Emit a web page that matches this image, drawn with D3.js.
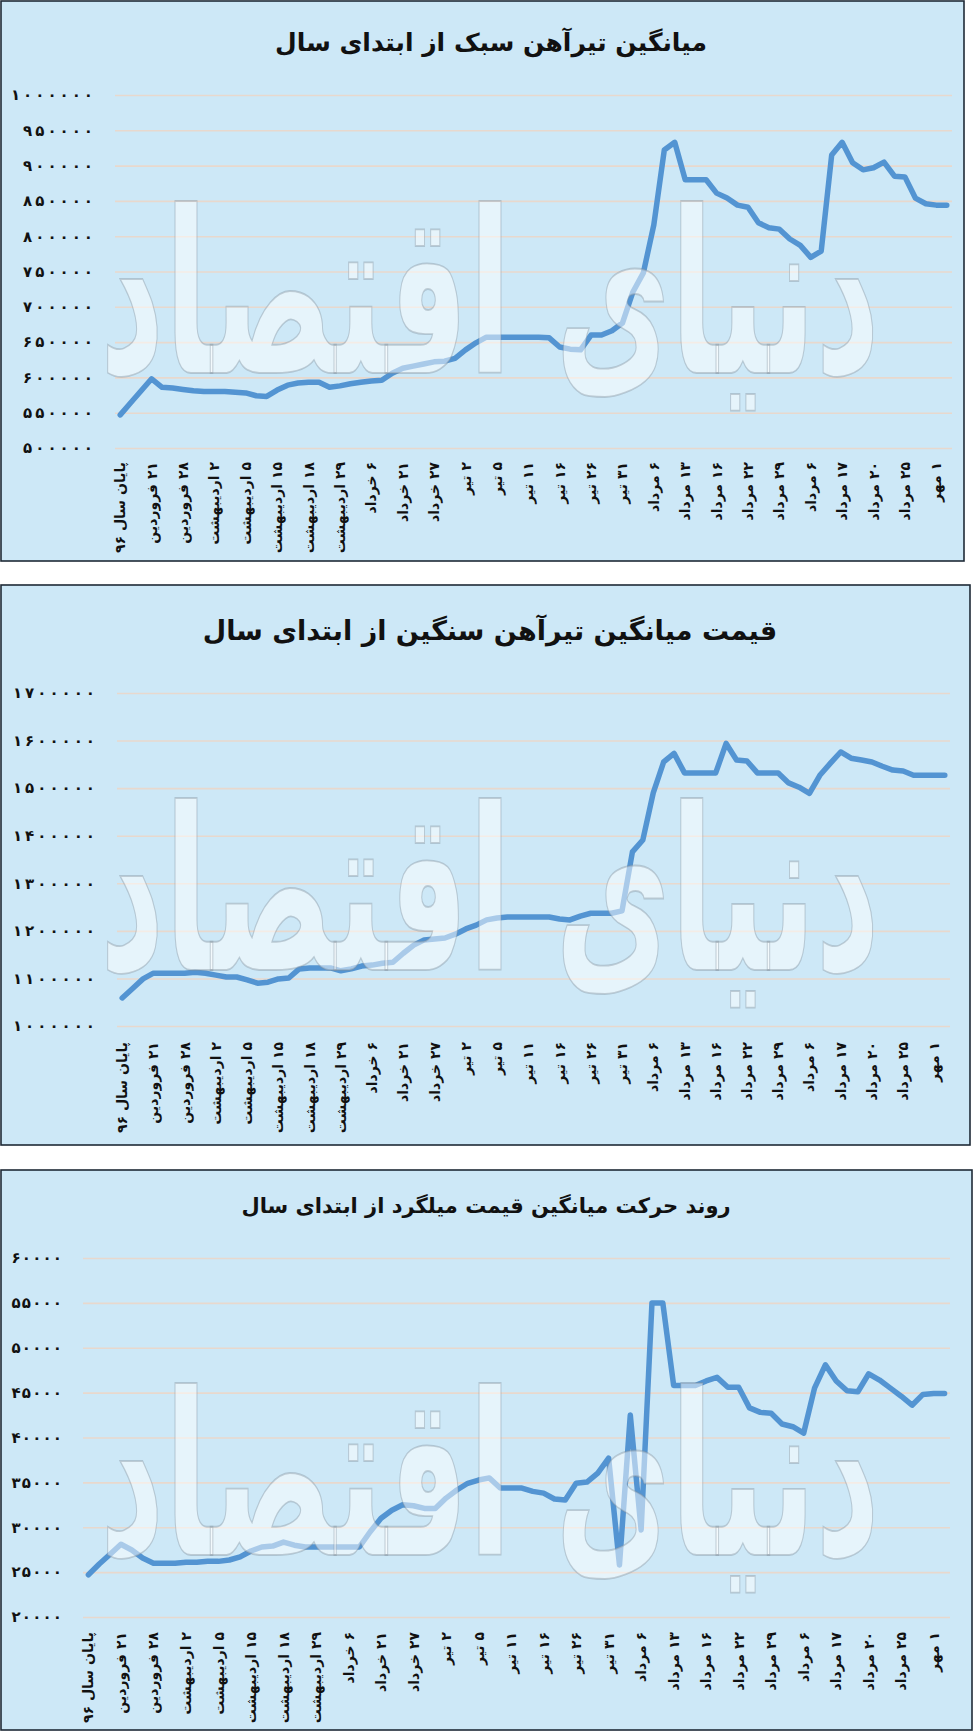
<!DOCTYPE html>
<html>
<head>
<meta charset="utf-8">
<script src="https://d3js.org/d3.v7.min.js"></script>
<style>
    body { margin: 0; background: #ffffff; }
    svg { display: block; }
    text { font-family: "DejaVu Sans", sans-serif; font-weight: bold; fill: #111; }
</style>
</head>
<body>
<div id="chart"></div>
<script>
// tick labels on the category axis (one every third point)
var xLabels = ["پایان سال ۹۶", "۲۱ فروردین", "۲۸ فروردین", "۲ اردیبهشت", "۵ اردیبهشت",
    "۱۵ اردیبهشت", "۱۸ اردیبهشت", "۲۹ اردیبهشت", "۶ خرداد", "۲۱ خرداد", "۲۷ خرداد",
    "۲ تیر", "۵ تیر", "۱۱ تیر", "۱۶ تیر", "۲۶ تیر", "۳۱ تیر", "۶ مرداد", "۱۳ مرداد",
    "۱۶ مرداد", "۲۲ مرداد", "۲۹ مرداد", "۶ مرداد", "۱۷ مرداد", "۲۰ مرداد", "۲۵ مرداد", "۱ مهر"];
var labelStep = 3;

var lightBeamTitle = "میانگین تیرآهن سبک از ابتدای سال";
var lightBeamTicks = [500000, 550000, 600000, 650000, 700000, 750000, 800000, 850000, 900000, 950000, 1000000];
var lightBeamPrices = [
    547000, 564000, 581000, 598000, 586000, 585000, 583000, 581000, 580000, 580000,
    580000, 579000, 578000, 574000, 573000, 582000, 589000, 592000, 593000, 593000,
    586000, 588000, 591000, 593000, 595000, 596000, 606000, 613000, 616000, 619000,
    622000, 623000, 627000, 639000, 649000, 657000, 657000, 657000, 657000, 657000,
    657000, 656000, 643000, 640000, 639000, 660000, 660000, 666000, 677000, 721000,
    748000, 816000, 922000, 933000, 880000, 880000, 880000, 861000, 854000, 844000,
    841000, 819000, 812000, 810000, 796000, 787000, 770000, 779000, 915000, 933000,
    904000, 894000, 897000, 905000, 885000, 884000, 854000, 846000, 844000, 844000
];

var heavyBeamTitle = "قیمت میانگین تیرآهن سنگین از ابتدای سال";
var heavyBeamTicks = [1000000, 1100000, 1200000, 1300000, 1400000, 1500000, 1600000, 1700000];
var heavyBeamPrices = [
    1059000, 1079000, 1099000, 1111000, 1111000, 1111000, 1111000, 1113000, 1111000, 1107000,
    1103000, 1103000, 1097000, 1090000, 1092000, 1099000, 1101000, 1120000, 1122000, 1122000,
    1122000, 1116000, 1120000, 1126000, 1128000, 1132000, 1134000, 1153000, 1170000, 1181000,
    1183000, 1185000, 1193000, 1204000, 1212000, 1223000, 1227000, 1229000, 1229000, 1229000,
    1229000, 1229000, 1225000, 1223000, 1231000, 1237000, 1237000, 1237000, 1242000, 1366000,
    1391000, 1490000, 1555000, 1573000, 1532000, 1532000, 1532000, 1532000, 1594000, 1559000,
    1557000, 1532000, 1532000, 1532000, 1511000, 1502000, 1489000, 1527000, 1552000, 1576000,
    1563000, 1559000, 1555000, 1546000, 1538000, 1536000, 1527000, 1527000, 1527000, 1527000
];

var rebarTitle = "روند حرکت میانگین قیمت میلگرد از ابتدای سال";
var rebarTicks = [20000, 25000, 30000, 35000, 40000, 45000, 50000, 55000, 60000];
var rebarPrices = [
    24700, 25900, 27000, 28100, 27460, 26570, 26000, 26000, 26000, 26100,
    26100, 26200, 26200, 26350, 26700, 27350, 27800, 27900, 28350, 28000,
    27800, 27800, 27800, 27800, 27800, 27800, 29500, 31000, 31900, 32500,
    32400, 32100, 32100, 33250, 34150, 34900, 35260, 35500, 34370, 34370,
    34370, 34000, 33800, 33150, 33030, 34900, 35030, 36040, 37700, 25800,
    42500, 29700, 55000, 55000, 45800, 45800, 45800, 46300, 46700, 45600,
    45600, 43300, 42800, 42700, 41500, 41200, 40500, 45500, 48100, 46300,
    45200, 45100, 47100, 46400, 45500, 44600, 43600, 44800, 44900, 44900
];

var watermarkText = "دنیای اقتصاد";

// western digits -> persian digits
function toPersianDigits(value) {
    var digits = "۰۱۲۳۴۵۶۷۸۹";
    return String(value).replace(/[0-9]/g, function (d) {
        return digits[+d];
    });
}

var svg = d3.select("#chart")
    .append("svg")
    .attr("width", 974)
    .attr("height", 1732);

function drawPanel(cfg) {
    var box = cfg.box;

    svg.append("rect")
        .attr("x", box[0])
        .attr("y", box[1])
        .attr("width", box[2])
        .attr("height", box[3])
        .attr("fill", "#cde8f7")
        .attr("stroke", "#1f2a36")
        .attr("stroke-width", 1.6);

    var x = d3.scaleBand()
        .domain(d3.range(cfg.values.length))
        .range([cfg.left, cfg.right]);

    var y = d3.scaleLinear()
        .domain(d3.extent(cfg.ticks))
        .range([cfg.bottom, cfg.top]);

    // value axis with the gridlines
    var yAxis = svg.append("g")
        .attr("transform", "translate(" + cfg.left + ",0)")
        .call(d3.axisLeft(y)
            .tickValues(cfg.ticks)
            .tickSize(-(cfg.right - cfg.left))
            .tickPadding(cfg.labelGap)
            .tickFormat(toPersianDigits));
    yAxis.select(".domain").remove();
    yAxis.selectAll(".tick line")
        .attr("stroke", "#e8d8cd")
        .attr("stroke-width", 1.6);
    // letter-spacing is ignored for arabic-script digits, so spread them with dx
    yAxis.selectAll(".tick text")
        .attr("fill", "#111")
        .style("font-size", cfg.tickFont + "px")
        .attr("dx", function () {
            var n = this.textContent.length;
            return d3.range(n).map(function (k) { return k === 0 ? 0 : cfg.tickSpacing; }).join(" ");
        });

    // category axis, labels turned upright
    var tickIndexes = d3.range(0, cfg.values.length, labelStep);
    var xAxis = svg.append("g")
        .attr("transform", "translate(0," + cfg.bottom + ")")
        .call(d3.axisBottom(x)
            .tickValues(tickIndexes)
            .tickSize(0)
            .tickFormat(function (i) {
                return "\u200F" + xLabels[i / labelStep];
            }));
    xAxis.select(".domain").remove();
    xAxis.selectAll(".tick text")
        .attr("fill", "#111")
        .attr("transform", "rotate(-90)")
        .attr("x", -cfg.xLabelGap)
        .attr("y", 0)
        .attr("dy", "0.36em")
        .attr("text-anchor", "end")
        .style("font-size", "14px");

    var line = d3.line()
        .x(function (d, i) { return x(i) + x.bandwidth() / 2; })
        .y(function (d) { return y(d); });

    svg.append("path")
        .datum(cfg.values)
        .attr("d", line)
        .attr("fill", "none")
        .attr("stroke", "#5394d2")
        .attr("stroke-width", 5.5)
        .attr("stroke-linejoin", "round")
        .attr("stroke-linecap", "round");

    // logo watermark laid over the plot, stretched upward like the calligraphy
    var mark = svg.append("text")
        .attr("transform", "translate(490," + (box[1] + cfg.markBaseline) + ") scale(1,1.8)")
        .attr("text-anchor", "middle")
        .style("font-size", "200px")
        .style("fill", "#ffffff")
        .style("fill-opacity", 0.5)
        .style("stroke", "#7f8e9c")
        .style("stroke-opacity", 0.4)
        .style("stroke-width", 1)
        .text(watermarkText);
    var markWidth = mark.node().getComputedTextLength();
    mark.style("font-size", (200 * 780 / markWidth) + "px");

    svg.append("text")
        .attr("x", cfg.titleX)
        .attr("y", box[1] + cfg.titleY)
        .attr("text-anchor", "middle")
        .style("font-size", cfg.titleFont + "px")
        .text(cfg.title);
}

drawPanel({
    box: [1, 1, 963, 560],
    left: 115, right: 952, top: 95, bottom: 448,
    ticks: lightBeamTicks, values: lightBeamPrices,
    labelGap: 22, tickFont: 15, tickSpacing: 3, xLabelGap: 14,
    title: lightBeamTitle, titleX: 491, titleY: 50, titleFont: 25,
    markBaseline: 372
});

drawPanel({
    box: [1, 585, 969, 560],
    left: 117, right: 950, top: 693, bottom: 1026,
    ticks: heavyBeamTicks, values: heavyBeamPrices,
    labelGap: 22, tickFont: 15, tickSpacing: 3, xLabelGap: 16,
    title: heavyBeamTitle, titleX: 490, titleY: 55, titleFont: 27,
    markBaseline: 385
});

drawPanel({
    box: [1, 1170, 971, 560],
    left: 83, right: 950, top: 1258, bottom: 1617,
    ticks: rebarTicks, values: rebarPrices,
    labelGap: 21, tickFont: 15, tickSpacing: 1.2, xLabelGap: 15,
    title: rebarTitle, titleX: 486, titleY: 43, titleFont: 21,
    markBaseline: 385
});
</script>
</body>
</html>
